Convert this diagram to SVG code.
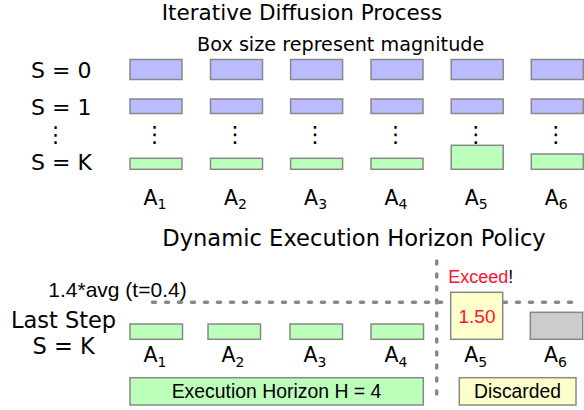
<svg xmlns="http://www.w3.org/2000/svg" width="584" height="410" viewBox="0 0 584 410">
  <style>
    .dv { font-family: "DejaVu Sans", Verdana, sans-serif; fill: #000; }
    .ar { font-family: "Liberation Sans", Arial, sans-serif; fill: #000; }
    .box { stroke: #888; stroke-width: 1.5; }
    .s0 { fill: #bbbbff; }
    .gr { fill: #bbffbb; }
    .yl { fill: #ffffcc; }
    .gy { fill: #cccccc; }
    .dash { stroke: #888; stroke-width: 3.5; stroke-linecap: round; stroke-dasharray: 3 10; fill: none; }
    .red { fill: #ff1030; }
    .lbl { font-size: 20.5px; }
    .sub { font-size: 14px; }
  </style>

  <rect width="584" height="410" fill="#fff"/>

  <!-- headings -->
  <g id="headings">
    <text class="dv" x="302" y="20" font-size="21.5" text-anchor="middle">Iterative Diffusion Process</text>
    <text class="dv" x="340.7" y="51" font-size="19.2" text-anchor="middle">Box size represent magnitude</text>
    <text class="dv" x="354" y="246" font-size="22.6" text-anchor="middle">Dynamic Execution Horizon Policy</text>
  </g>

  <!-- step labels -->
  <g id="step-labels" class="dv" font-size="22">
    <text x="31" y="78">S = 0</text>
    <text x="31" y="115">S = 1</text>
    <text x="55.5" y="142" text-anchor="middle">⋮</text>
    <text x="31" y="170">S = K</text>
  </g>

  <!-- step 0 -->
  <g id="row-s0">
    <rect class="box s0" x="130" y="59.5" width="52" height="20"/>
    <rect class="box s0" x="210.5" y="59.5" width="52" height="20"/>
    <rect class="box s0" x="290.6" y="59.5" width="52" height="20"/>
    <rect class="box s0" x="371" y="59.5" width="52" height="20"/>
    <rect class="box s0" x="451.2" y="59.5" width="52" height="20"/>
    <rect class="box s0" x="531.3" y="59.5" width="52" height="20"/>
  </g>

  <!-- step 1 -->
  <g id="row-s1">
    <rect class="box s0" x="130" y="99" width="52" height="14.5"/>
    <rect class="box s0" x="210.5" y="99" width="52" height="14.5"/>
    <rect class="box s0" x="290.6" y="99" width="52" height="14.5"/>
    <rect class="box s0" x="371" y="99" width="52" height="14.5"/>
    <rect class="box s0" x="451.2" y="99" width="52" height="14.5"/>
    <rect class="box s0" x="531.3" y="99" width="52" height="14.5"/>
  </g>

  <!-- ellipses between rows -->
  <g id="row-ellipsis" class="dv" font-size="22.5" text-anchor="middle">
    <text x="154.5" y="142">⋮</text>
    <text x="235" y="142">⋮</text>
    <text x="315" y="142">⋮</text>
    <text x="395.5" y="142">⋮</text>
    <text x="475.7" y="142">⋮</text>
    <text x="555.8" y="142">⋮</text>
  </g>

  <!-- step K -->
  <g id="row-sk">
    <rect class="box gr" x="130" y="158.3" width="52" height="11"/>
    <rect class="box gr" x="210.5" y="158.3" width="52" height="11"/>
    <rect class="box gr" x="290.6" y="158.3" width="52" height="11"/>
    <rect class="box gr" x="371" y="158.3" width="52" height="11"/>
    <rect class="box gr" x="451.2" y="145.3" width="52" height="24"/>
    <rect class="box gr" x="531.3" y="154" width="52" height="15.3"/>
  </g>

  <!-- action labels, top -->
  <g id="actions-top" class="dv lbl" text-anchor="middle">
    <text x="155" y="204.5">A<tspan class="sub" dy="4.5">1</tspan></text>
    <text x="235.5" y="204.5">A<tspan class="sub" dy="4.5">2</tspan></text>
    <text x="315.6" y="204.5">A<tspan class="sub" dy="4.5">3</tspan></text>
    <text x="396" y="204.5">A<tspan class="sub" dy="4.5">4</tspan></text>
    <text x="476.2" y="204.5">A<tspan class="sub" dy="4.5">5</tspan></text>
    <text x="556.3" y="204.5">A<tspan class="sub" dy="4.5">6</tspan></text>
  </g>

  <!-- policy section -->
  <g id="threshold-label">
    <text class="ar" x="48.3" y="297" font-size="21">1.4*avg (t=0.4)</text>
  </g>
  <g id="last-step-label" class="dv" font-size="22.5" text-anchor="middle">
    <text x="63.5" y="328">Last Step</text>
    <text x="63.7" y="353.5">S = K</text>
  </g>

  <g id="connectors">
    <line class="dash" x1="152.5" y1="302.3" x2="574" y2="302.3"/>
    <line class="dash" x1="436.7" y1="261" x2="436.7" y2="404"/>
  </g>

  <g id="last-a1"><rect class="box gr" x="130" y="324" width="52.5" height="15.3"/></g>
  <g id="last-a2"><rect class="box gr" x="208" y="324" width="52.5" height="15.3"/></g>
  <g id="last-a3"><rect class="box gr" x="290" y="324" width="52.5" height="15.3"/></g>
  <g id="last-a4"><rect class="box gr" x="371" y="324" width="52.5" height="15.3"/></g>
  <g id="last-a5">
    <rect class="box yl" x="450.7" y="292.3" width="52" height="47"/>
    <text class="ar red" x="477" y="322.7" font-size="19" text-anchor="middle">1.50</text>
  </g>
  <g id="last-a6"><rect class="box gy" x="530.3" y="312.3" width="52.4" height="27"/></g>

  <g id="exceed-label">
    <text class="ar" x="448.3" y="283.3" font-size="18"><tspan class="red">Exceed</tspan>!</text>
  </g>

  <g id="actions-bottom" class="dv lbl" text-anchor="middle">
    <text x="155" y="362">A<tspan class="sub" dy="4.5">1</tspan></text>
    <text x="233" y="362">A<tspan class="sub" dy="4.5">2</tspan></text>
    <text x="315" y="362">A<tspan class="sub" dy="4.5">3</tspan></text>
    <text x="396" y="362">A<tspan class="sub" dy="4.5">4</tspan></text>
    <text x="475.7" y="362">A<tspan class="sub" dy="4.5">5</tspan></text>
    <text x="555.5" y="362">A<tspan class="sub" dy="4.5">6</tspan></text>
  </g>

  <g id="execution-horizon">
    <rect class="box gr" x="130" y="377.7" width="293.3" height="27.3"/>
    <text class="ar" x="276.5" y="398.3" font-size="19.4" text-anchor="middle">Execution Horizon H = 4</text>
  </g>
  <g id="discarded">
    <rect class="box yl" x="459.3" y="377.7" width="116.7" height="27.3"/>
    <text class="ar" x="517.5" y="398.3" font-size="19.3" text-anchor="middle">Discarded</text>
  </g>
</svg>
